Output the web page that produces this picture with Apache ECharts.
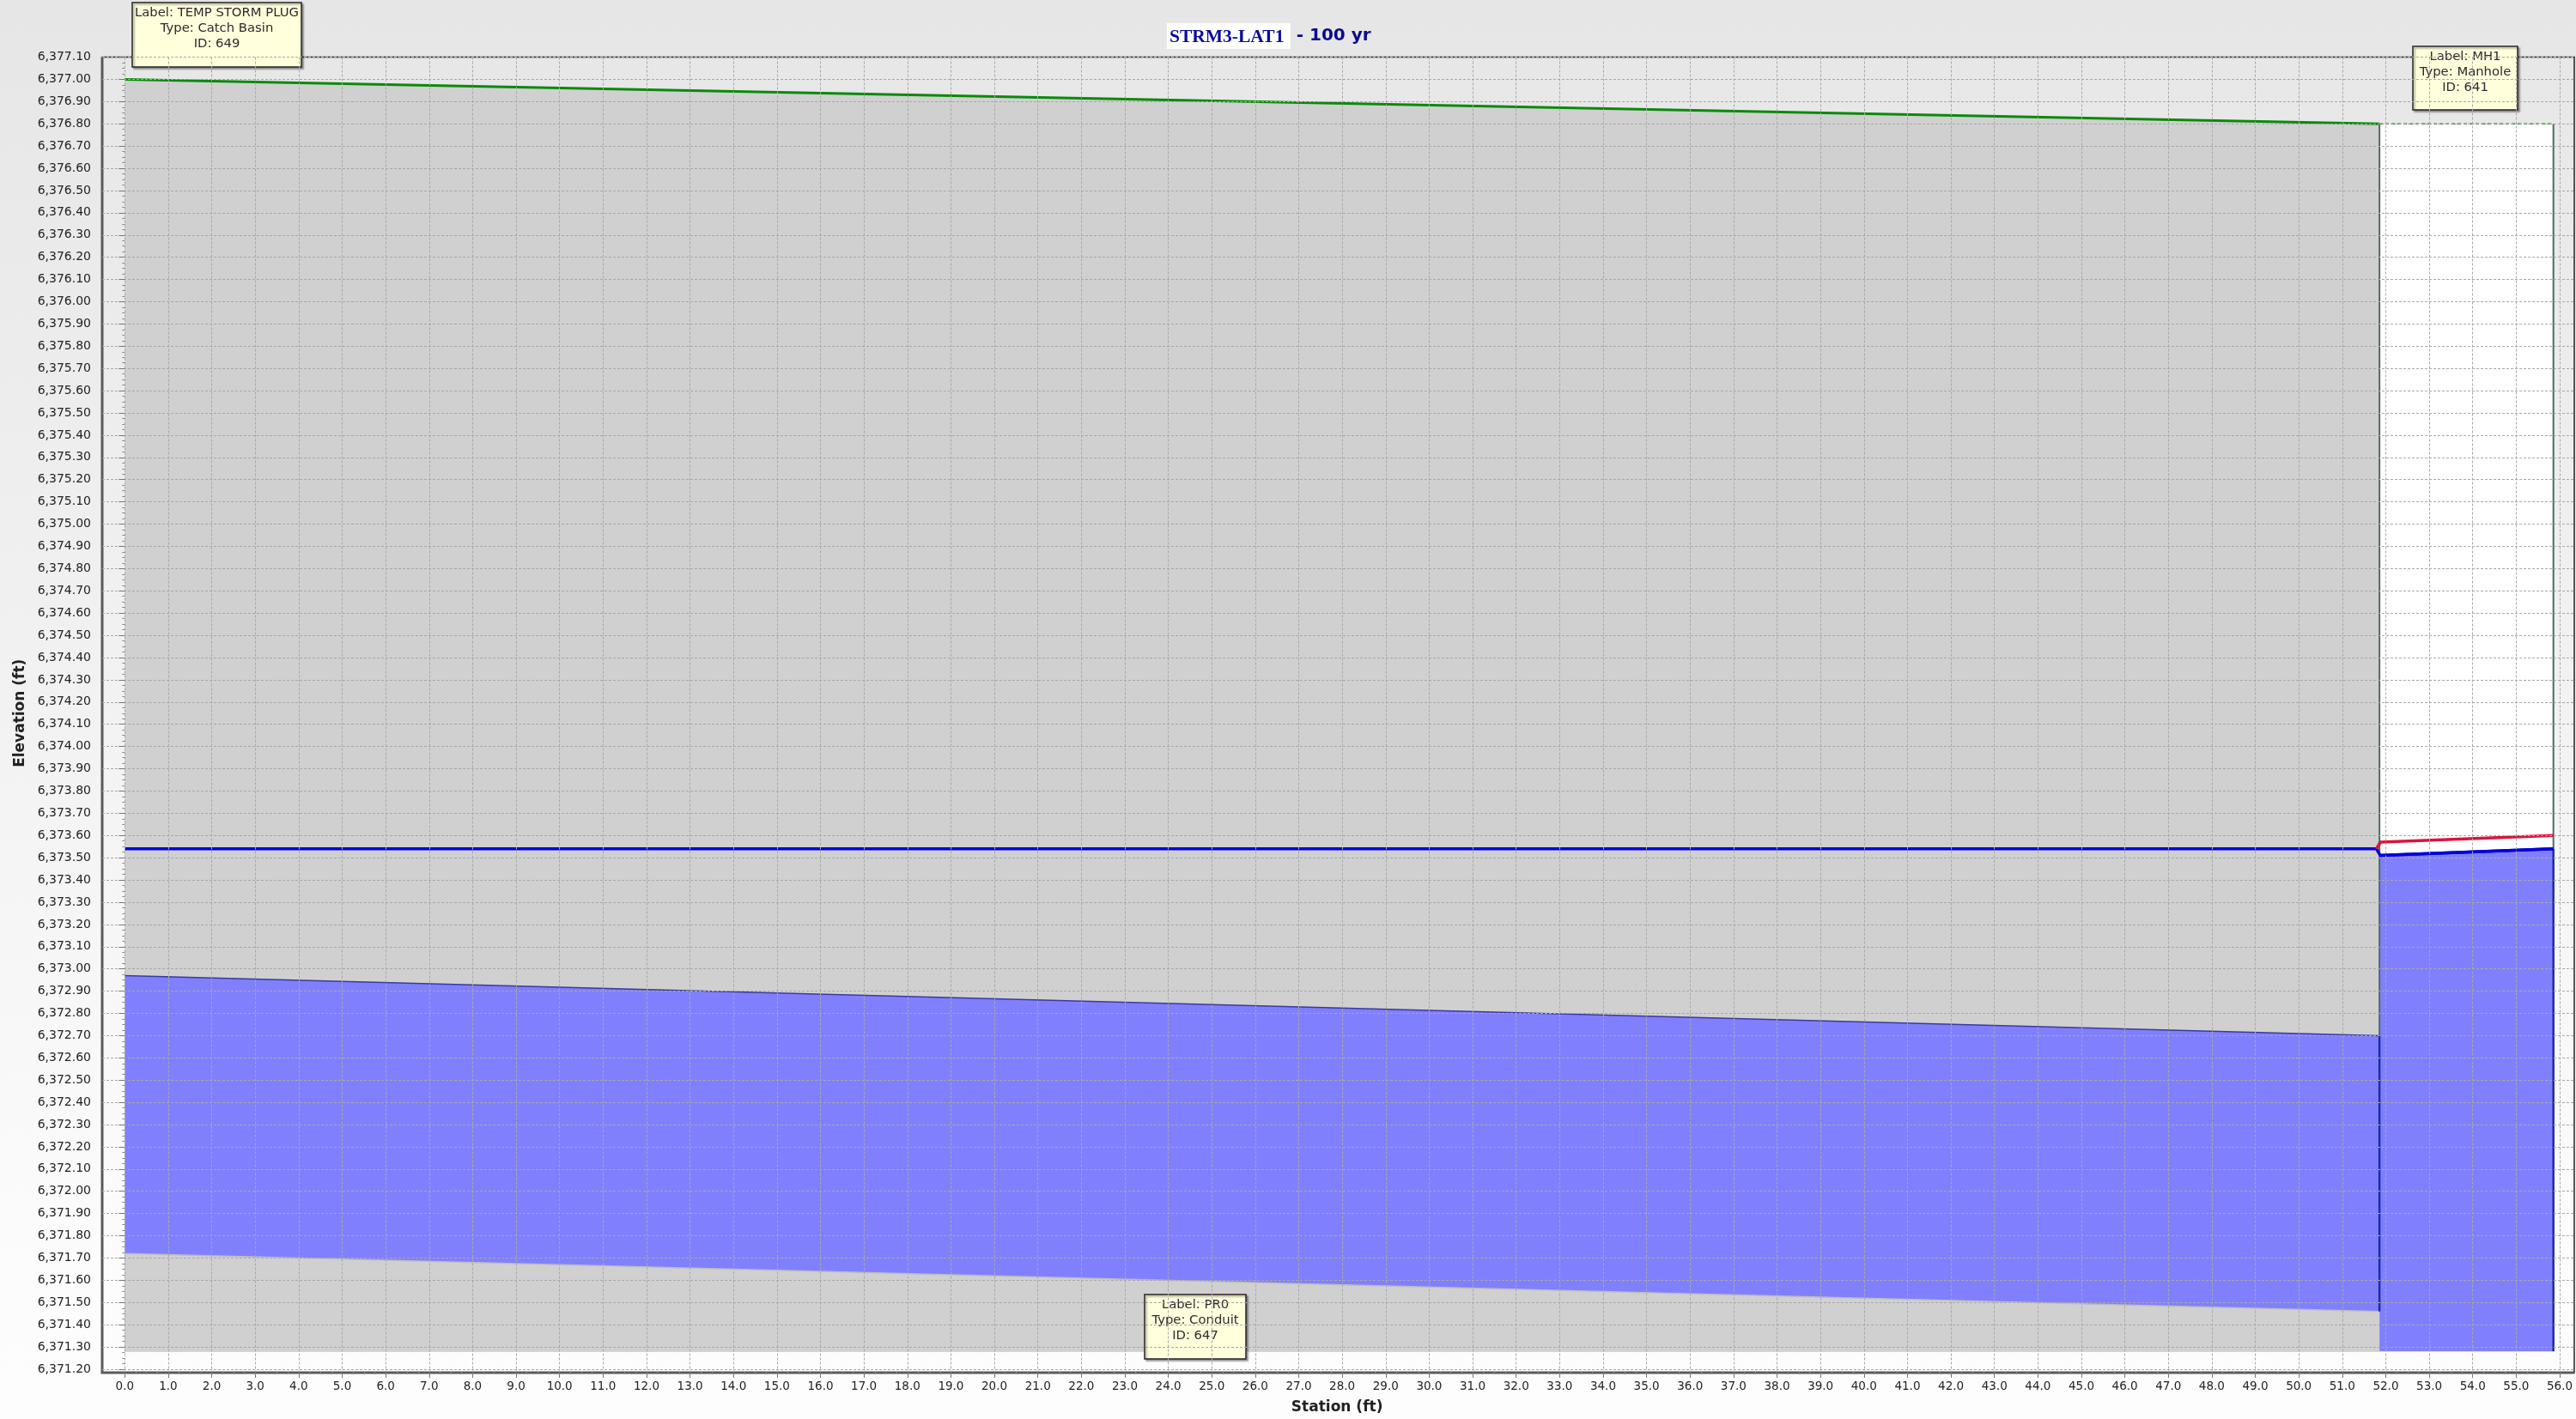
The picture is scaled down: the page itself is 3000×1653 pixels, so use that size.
<!DOCTYPE html>
<html>
<head>
<meta charset="utf-8">
<title>STRM3-LAT1 - 100 yr</title>
<style>
  html, body { margin: 0; padding: 0; }
  #profile-chart { width: 3000px; height: 1653px; }
</style>
<script src="https://cdn.jsdelivr.net/npm/echarts@6/dist/echarts.min.js"></script>
</head>
<body>
<div id="profile-chart"></div>
<script>
var floorElev = 6371.28;

var groundStation = [0, 51.85];
var groundElev = [6377.00, 6376.80];
var rimStation = [51.85, 55.85];
var rimElev = [6376.80, 6376.80];

var pipeStation = [0, 51.85];
var pipeTopElev = [6372.97, 6372.70];
var pipeInvertElev = [6371.72, 6371.46];

var hglStation = [0, 51.78, 51.87, 55.85];
var hglElev = [6373.54, 6373.54, 6373.51, 6373.54];
var waterStation = [51.85, 55.85];
var waterElev = [6373.51, 6373.54];
var eglStation = [51.78, 51.87, 55.85];
var eglElev = [6373.54, 6373.57, 6373.60];

var upperWallStation = [51.85, 51.85, null, 55.85, 55.85];
var upperWallElev = [6372.70, 6376.80, null, 6373.54, 6376.80];
var lowerWallStation = [51.85, 51.85, null, 55.85, 55.85];
var lowerWallElev = [6371.46, 6372.70, null, 6371.28, 6373.54];

var boxes = [
  { lines: ['Label: TEMP STORM PLUG', 'Type: Catch Basin', 'ID: 649'], x: 154, y: 3, w: 197, h: 75 },
  { lines: ['Label: MH1', 'Type: Manhole', 'ID: 641'], x: 2810, y: 54, w: 122, h: 74 },
  { lines: ['Label: PR0', 'Type: Conduit', 'ID: 647'], x: 1333, y: 1508, w: 118, h: 75 }
];

var labelFont = '"DejaVu Sans", sans-serif';
var gridLine = { show: true, lineStyle: { color: '#a8a8a8', width: 1, type: [3, 2] } };

function pairs(xs, ys) {
  return xs.map(function (x, i) {
    return x === null ? null : [x, ys[i]];
  });
}

// line with optional area down to the structure floor, later series paint over earlier ones
function profile(name, xs, ys, lineColor, lineWidth, fillColor, lineType) {
  var s = {
    name: name,
    type: 'line',
    xAxisIndex: 0,
    yAxisIndex: 0,
    data: pairs(xs, ys),
    symbol: 'none',
    connectNulls: false,
    lineStyle: { color: lineColor, width: lineWidth, type: lineType || 'solid' },
    animation: false
  };
  if (fillColor) {
    s.areaStyle = { color: fillColor, opacity: 1, origin: floorElev };
  }
  return s;
}

function boxGraphic(b) {
  return {
    type: 'group',
    x: b.x,
    y: b.y,
    z: 4,
    children: [
      {
        type: 'rect',
        shape: { x: 0, y: 0, width: b.w, height: b.h },
        style: {
          fill: '#ffffdc', stroke: '#222', lineWidth: 1.5,
          shadowColor: 'rgba(0,0,0,0.35)', shadowBlur: 2, shadowOffsetX: 2, shadowOffsetY: 2
        },
        z: 4
      },
      {
        type: 'text',
        x: b.w / 2,
        y: 3,
        z: 4,
        style: {
          text: b.lines.join('\n'),
          font: '14.8px ' + labelFont,
          fill: '#33282e',
          align: 'center',
          verticalAlign: 'top',
          lineHeight: 18
        }
      }
    ]
  };
}

var myChart = echarts.init(document.getElementById('profile-chart'));

myChart.setOption({
  animation: false,
  backgroundColor: new echarts.graphic.LinearGradient(0, 0, 0, 1, [
    { offset: 0, color: '#e6e6e6' },
    { offset: 0.9, color: '#fcfcfc' },
    { offset: 1, color: '#fdfdfd' }
  ]),
  title: {
    left: 1359,
    top: 27,
    padding: 0,
    text: '{a|STRM3-LAT1 }{b| - 100 yr}',
    textStyle: {
      rich: {
        a: { fontFamily: '"Liberation Serif", serif', fontWeight: 'bold', fontSize: 21.5, color: '#0b0b9c', backgroundColor: '#fff', padding: [5, 2, 3, 3] },
        b: { fontFamily: labelFont, fontWeight: 'bold', fontSize: 20, color: '#0b0b8c' }
      }
    }
  },
  grid: [
    { left: 119, top: 66.5, width: 2879, height: 1528.5 },
    { left: 145.3, top: 66.5, width: 2835.7, height: 1532.5 }
  ],
  xAxis: [
    { type: 'value', gridIndex: 0, min: -0.52, max: 56.33, show: false },
    {
      type: 'value',
      gridIndex: 1,
      min: 0,
      max: 56,
      interval: 1,
      z: 5,
      name: 'Station (ft)',
      nameLocation: 'middle',
      nameGap: 33,
      nameTextStyle: { fontFamily: labelFont, fontWeight: 'bold', fontSize: 17, color: '#222', padding: [0, 12, 0, 0] },
      axisLine: { show: false },
      axisTick: { show: true, length: 7, lineStyle: { color: '#777' } },
      minorTick: { show: true, splitNumber: 4, length: 3, lineStyle: { color: '#888' } },
      axisLabel: {
        margin: 10,
        fontFamily: labelFont,
        fontSize: 13.5,
        color: '#222',
        hideOverlap: false,
        formatter: function (v) { return v.toFixed(1); }
      },
      splitLine: gridLine
    }
  ],
  yAxis: [
    {
      type: 'value',
      gridIndex: 0,
      min: 6371.2,
      max: 6377.1,
      interval: 0.1,
      z: 5,
      name: 'Elevation (ft)',
      nameLocation: 'middle',
      nameGap: 87,
      nameTextStyle: { fontFamily: labelFont, fontWeight: 'bold', fontSize: 17, color: '#222' },
      axisLine: { show: false },
      axisTick: { show: true, length: 7, lineStyle: { color: '#777' } },
      minorTick: { show: true, splitNumber: 4, length: 3, lineStyle: { color: '#888' } },
      axisLabel: {
        margin: 13,
        fontFamily: labelFont,
        fontSize: 14,
        color: '#222',
        hideOverlap: false,
        formatter: function (v) {
          var txt = v.toFixed(2);
          return txt.slice(0, 1) + ',' + txt.slice(1);
        }
      },
      splitLine: gridLine
    },
    { type: 'value', gridIndex: 1, min: 6371.185, max: 6377.1, show: false }
  ],
  series: [
    profile('Ground', groundStation, groundElev, '#0a8a0a', 3, '#d0d0d0'),
    profile('Manhole', rimStation, rimElev, '#58a858', 2, '#ffffff', [4, 3]),
    profile('Pipe crown', pipeStation, pipeTopElev, '#3a3a9c', 1.5, '#8080ff'),
    profile('Pipe invert', pipeStation, pipeInvertElev, '#bdbdbd', 1.5, '#d0d0d0'),
    profile('Water', waterStation, waterElev, '#0000e0', 3.5, '#8080ff'),
    profile('Upper walls', upperWallStation, upperWallElev, '#4a6a6a', 2),
    profile('Lower walls', lowerWallStation, lowerWallElev, '#1c2ea0', 2.5),
    profile('HGL', hglStation, hglElev, '#0000e0', 3.5),
    profile('EGL', eglStation, eglElev, '#dc143c', 3.5)
  ],
  graphic: [
    {
      type: 'rect',
      z: 3,
      shape: { x: 119, y: 66.5, width: 2879, height: 1532.5 },
      style: { fill: 'none', stroke: '#222', lineWidth: 1.5 }
    },
    {
      type: 'polyline',
      z: 3,
      shape: { points: [[119, 66.5], [119, 1599], [2998, 1599]] },
      style: { fill: 'none', stroke: '#5a5a5a', lineWidth: 3 }
    }
  ].concat(boxes.map(boxGraphic))
});
</script>
</body>
</html>
